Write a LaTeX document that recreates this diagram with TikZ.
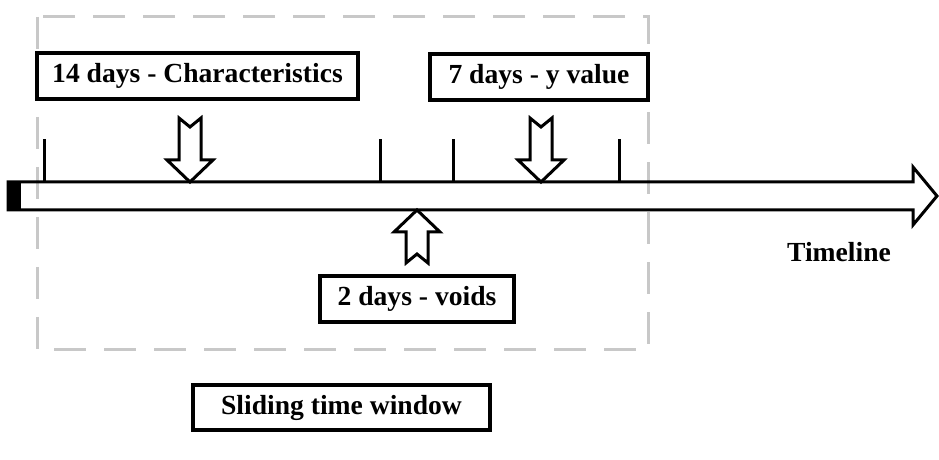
\documentclass[tikz,border=0pt]{standalone}
\usepackage{fontspec}
\setmainfont{Liberation Serif}
\definecolor{windowgray}{HTML}{C8C8C8}

\begin{document}
\begin{tikzpicture}[x=0.5pt, y=-0.5pt,
    labelbox/.style={rectangle, draw=black, line width=1.6pt, fill=white,
        inner sep=0pt, font=\fontsize{13.8}{16}\selectfont\bfseries},
    barline/.style={draw=black, line width=1.5pt, line join=miter},
    tickline/.style={draw=black, line width=1.5pt},
    % #1 = length of the hollow arrow from tip to tail
    pics/hollowarrow/.style={code={
        \draw[barline, fill=white] (-11,-#1) -- (0,-#1+9) -- (11,-#1)
            -- (11,-22) -- (23,-22) -- (0,0) -- (-23,-22)
            -- (-11,-22) -- cycle;}}]
  \useasboundingbox (0,0) rectangle (939,460);

  % the sliding window: dashed gray frame round the 14 + 2 + 7 days
  \draw[windowgray, line width=1.5pt, dash pattern=on 16pt off 9pt]
    (37,17) rectangle (648,350);

  % timeline bar with its open head and the black block at the start
  \draw[barline] (8,182) -- (913,182) -- (913,167) -- (937,196)
    -- (913,225) -- (913,210) -- (8,210) -- cycle;
  \fill (8,182) rectangle (21,210);
  \foreach \x in {44,380,453,619}
    \draw[tickline] (\x,182) -- (\x,139);

  % period labels
  \node[labelbox, minimum width=160.5pt, minimum height=23pt]
    (charbox) at (197.5,76) {14 days - Characteristics};
  \node[labelbox, minimum width=109pt, minimum height=23pt]
    (ybox) at (539,77) {7 days - y value};
  \node[labelbox, minimum width=97pt, minimum height=23pt]
    (voidbox) at (417,299) {2 days - voids};
  \node[labelbox, minimum width=148.5pt, minimum height=22.5pt]
    (windowbox) at (341.5,407.5) {Sliding time window};
  \node[font=\fontsize{13.8}{16}\selectfont\bfseries]
    (timeline) at (839,252) {Timeline};

  % hollow arrows pointing at the bar
  \pic at (190,182) {hollowarrow=64};
  \pic at (541,182) {hollowarrow=64};
  \pic[rotate=180] at (417,210) {hollowarrow=53};
\end{tikzpicture}
\end{document}
